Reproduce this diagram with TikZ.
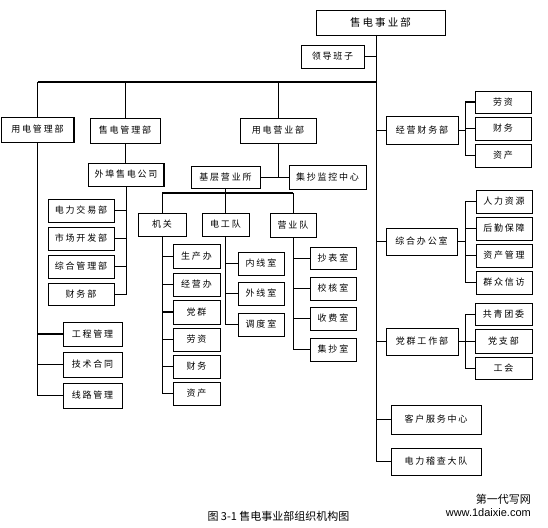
\documentclass[tikz,border=0pt]{standalone}
\usepackage{fontspec}
\newfontfamily\cjk{Noto Sans CJK SC}[LetterSpace=20]
\newfontfamily\cjkcap{Noto Sans CJK SC}
\newfontfamily\wmfont{Liberation Sans}
\newcommand\boxat[6]{%
  \node[box, minimum width={#4-#2}, minimum height={#5-#3}] (#1) at ({(#2+#4)/2},{(#3+#5)/2}) {#6};
  \draw[shadeline] ([xshift=0.5pt]#1.north east) -- ([xshift=0.5pt,yshift=-0.5pt]#1.south east) -- ([yshift=-0.5pt]#1.south west);}
\begin{document}
\begin{tikzpicture}[x=1pt,y=-1pt,
  box/.style={draw, line width=0.8pt, inner sep=0pt, outer sep=0pt, font=\cjk\fontsize{9}{9}\selectfont},
  shadeline/.style={line width=1.6pt},
  conn/.style={line width=0.9pt},
  tk/.style={line width=1.8pt}]
\useasboundingbox (0,0) rectangle (548,527);
% boxes
\boxat{top}{316}{10}{445}{35}{\fontsize{10.5}{10.5}\selectfont 售电事业部}
\boxat{lead}{301}{45}{364}{68}{领导班子}
\boxat{yd}{1.5}{117}{73.5}{142}{用电管理部}
\boxat{sd}{90}{118}{160}{143}{售电管理部}
\boxat{yy}{240}{118}{316}{143}{用电营业部}
\boxat{jc}{386}{116}{458}{144}{经营财务部}
\boxat{ja}{475}{91}{531}{113}{劳资}
\boxat{jb}{475}{117}{531}{140}{财务}
\boxat{jcc}{475}{144}{531}{167}{资产}
\boxat{wb}{88.5}{163}{163.5}{186}{外埠售电公司}
\boxat{jy}{191}{166}{260}{188}{基层营业所}
\boxat{jk}{289}{165}{366}{189}{集抄监控中心}
\boxat{s1}{48}{199}{114}{222}{电力交易部}
\boxat{s2}{48}{227}{114}{250}{市场开发部}
\boxat{s3}{48}{255}{114}{278}{综合管理部}
\boxat{s4}{48}{283}{114}{305}{财务部}
\boxat{jg}{138}{213}{186}{236}{机关}
\boxat{dg}{202}{213}{249}{236}{电工队}
\boxat{yq}{270}{213}{316}{237}{营业队}
\boxat{k1}{173}{244}{220}{268}{生产办}
\boxat{k2}{173}{273}{220}{296}{经营办}
\boxat{k3}{173}{300}{220}{324}{党群}
\boxat{k4}{173}{328}{220}{351}{劳资}
\boxat{k5}{173}{355}{220}{378}{财务}
\boxat{k6}{173}{382}{220}{405}{资产}
\boxat{n1}{238}{252}{284}{275}{内线室}
\boxat{n2}{238}{282}{284}{305}{外线室}
\boxat{n3}{238}{313}{284}{336}{调度室}
\boxat{m1}{310}{247}{356}{269}{抄表室}
\boxat{m2}{310}{277}{356}{300}{校核室}
\boxat{m3}{310}{307}{356}{330}{收费室}
\boxat{m4}{310}{338}{356}{361}{集抄室}
\boxat{g1}{63}{322}{122}{346}{工程管理}
\boxat{g2}{63}{352}{122}{377}{技术合同}
\boxat{g3}{63}{383}{122}{408}{线路管理}
\boxat{zh}{386}{228}{457}{255}{综合办公室}
\boxat{z1}{476}{190}{532}{213}{人力资源}
\boxat{z2}{476}{217}{532}{240}{后勤保障}
\boxat{z3}{476}{244}{532}{267}{资产管理}
\boxat{z4}{476}{271}{532}{294}{群众信访}
\boxat{dq}{386}{328}{458}{355}{党群工作部}
\boxat{d1}{475}{303}{532}{325}{共青团委}
\boxat{d2}{475}{329}{532}{353}{党支部}
\boxat{d3}{475}{357}{532}{379}{工会}
\boxat{kf}{391}{405}{481}{434}{客户服务中心}
\boxat{jd}{391}{448}{481}{475}{电力稽查大队}
% helper coordinates
\coordinate (tb) at (376,0);
\coordinate (bus) at (37.5,82);
\coordinate (bx) at (465,0);
\coordinate (b2) at (0,193);
% trunk
\draw[conn] (top.south -| tb) -- (tb |- jd.west) -- (jd.west);
\draw[conn] (lead.east) -- (lead.east -| tb);
\draw[tk] (bus) -- (bus -| tb);
\draw[conn] (yd.north) -- (bus);
\draw[conn] (sd.north) -- (sd.north |- bus);
\draw[conn] (yy.north) -- (yy.north |- bus);
\draw[conn] (jc.west) -- (jc.west -| tb);
\draw[conn] (zh.west) -- (zh.west -| tb);
\draw[tk] (dq.west) -- (dq.west -| tb);
\draw[conn] (kf.west) -- (kf.west -| tb);
% right brackets
\draw[conn] (jc.east) -- (jc.east -| bx);
\draw[conn] (ja.west -| bx) -- (jcc.west -| bx) -- (jcc.west);
\draw[tk] (ja.west) -- (ja.west -| bx);
\draw[conn] (jb.west) -- (jb.west -| bx);
\draw[conn] (zh.east) -- (zh.east -| bx);
\draw[conn] (z1.west -| bx) -- (z4.west -| bx);
\draw[tk] (z1.west) -- (z1.west -| bx);
\draw[conn] (z2.west) -- (z2.west -| bx);
\draw[conn] (z3.west) -- (z3.west -| bx);
\draw[tk] (z4.west) -- (z4.west -| bx);
\draw[conn] (dq.east) -- (dq.east -| bx);
\draw[conn] (d1.west) -- (d1.west -| bx) -- (d3.west -| bx) -- (d3.west);
\draw[conn] (d2.west) -- (d2.west -| bx);
% 售电管理部
\draw[conn] (sd.south) -- (sd.south |- wb.north);
\draw[conn] (wb.south) -- (wb.south |- s4.east) -- (s4.east);
\draw[tk] (s1.east) -- (s1.east -| wb.south);
\draw[conn] (s2.east) -- (s2.east -| wb.south);
\draw[conn] (s3.east) -- (s3.east -| wb.south);
% 用电管理部
\draw[conn] (yd.south) |- (g3.west);
\draw[tk] (g1.west) -- (g1.west -| yd.south);
\draw[conn] (g2.west) -- (g2.west -| yd.south);
% 用电营业部
\draw[conn] (yy.south) -- (yy.south |- jy.east);
\draw[conn] (jy.east) -- (jk.west);
\draw[conn] (jy.south) -- (dg.north);
\draw[tk] (jg.north |- b2) -- (yq.north |- b2);
\draw[conn] (jg.north) -- (jg.north |- b2);
\draw[conn] (yq.north) -- (yq.north |- b2);
% 机关
\draw[conn] (jg.south) |- (k6.west);
\draw[conn] (k1.west) -- (k1.west -| jg.south);
\draw[conn] (k2.west) -- (k2.west -| jg.south);
\draw[tk] (k3.west) -- (k3.west -| jg.south);
\draw[conn] (k4.west) -- (k4.west -| jg.south);
\draw[conn] (k5.west) -- (k5.west -| jg.south);
% 电工队
\draw[conn] (dg.south) |- (n3.west);
\draw[tk] (n1.west) -- (n1.west -| dg.south);
\draw[tk] (n2.west) -- (n2.west -| dg.south);
% 营业队
\draw[conn] (yq.south) -- (yq.south |- m4.west);
\draw[conn] (m1.west) -- (m1.west -| yq.south);
\draw[conn] (m2.west) -- (m2.west -| yq.south);
\draw[tk] (m3.west) -- (m3.west -| yq.south);
\draw[tk] (m4.west) -- (m4.west -| yq.south);
% caption and mark
\node[font=\cjkcap\fontsize{11}{11}\selectfont] (cap) at (278.5,516) {图 3-1 售电事业部组织机构图};
\node[anchor=east, inner sep=0pt, font=\cjkcap\fontsize{11}{11}\selectfont] (wm1) at (531,499) {第一代写网};
\node[anchor=east, inner sep=0pt, font=\wmfont\fontsize{11}{11}\selectfont] (wm2) at (531,513) {www.1daixie.com};
\end{tikzpicture}
\end{document}
